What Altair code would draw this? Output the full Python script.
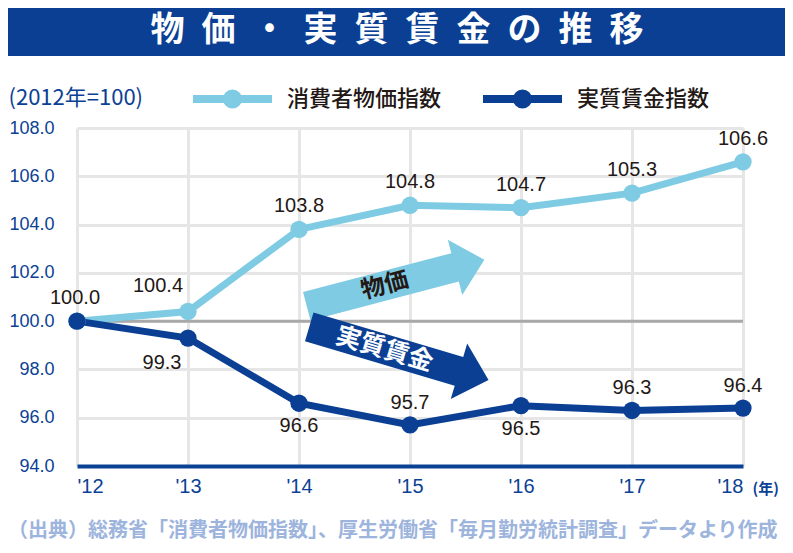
import json
import pandas as pd
import altair as alt

# ---------------- data ----------------
years = [2012, 2013, 2014, 2015, 2016, 2017, 2018]
year_labels = ["'12", "'13", "'14", "'15", "'16", "'17", "'18"]
cpi = [100.0, 100.4, 103.8, 104.8, 104.7, 105.3, 106.6]
wage = [100.0, 99.3, 96.6, 95.7, 96.5, 96.3, 96.4]
series_names = ["消費者物価指数", "実質賃金指数"]
y_ticks = [94.0, 96.0, 98.0, 100.0, 102.0, 104.0, 106.0, 108.0]
base_value = 100.0
title_text = "物価・実質賃金の推移"
unit_text = "(2012年=100)"
year_unit = "(年)"
source_text = "（出典）総務省「消費者物価指数」、厚生労働省「毎月勤労統計調査」データより作成"
arrow_labels = ["物価", "実質賃金"]
arrow_years = [2014.87, 2014.9]
arrow_values = [101.58, 98.66]

# ---------------- styles ----------------
LIGHT = "#7ecbe3"
DARK = "#0a3f94"
AXIS_BLUE = "#0b4195"
TEXT = "#231815"
GRID = "#e6e6e6"
SOURCE = "#9db4dd"
JP = "Noto Sans CJK JP"
NUM = "Liberation Sans"

ARROW_PATH = "M-1,-0.16L0.67,-0.16L0.67,-0.31L1,0L0.67,0.31L0.67,0.16L-1,0.16Z"
LEGEND_PATH = "M-1,0L1,0M0.14,0A0.14,0.14,0,1,1,-0.14,0A0.14,0.14,0,1,1,0.14,0Z"

df = pd.DataFrame({
    "year": years * 2,
    "value": cpi + wage,
    "series": [series_names[0]] * len(years) + [series_names[1]] * len(years),
})

xscale = alt.Scale(domain=[years[0], years[-1]], nice=False, zero=False)
yscale = alt.Scale(domain=[y_ticks[0], y_ticks[-1]], nice=False, zero=False)

xaxis = alt.Axis(
    values=years,
    labelExpr=f"{json.dumps(year_labels)}[datum.value - {years[0]}]",
    labelFont=NUM, labelFontSize=20, labelColor=AXIS_BLUE, labelPadding=10,
    ticks=False, tickSize=0,
    domain=True, domainColor=AXIS_BLUE, domainWidth=4,
    grid=True, gridColor=GRID, gridWidth=3,
    title=year_unit, titleFont=JP, titleFontSize=15, titleFontWeight="bold",
    titleColor=AXIS_BLUE, titleAngle=0, titleX=675, titleY=22,
    titleAlign="left", titleBaseline="middle",
)
yaxis = alt.Axis(
    values=y_ticks, format=".1f",
    labelFont=NUM, labelFontSize=18, labelColor=AXIS_BLUE, labelPadding=23,
    ticks=False, tickSize=0, domain=False,
    grid=True, gridWidth=3,
    gridColor={"condition": {"test": f"datum.value === {y_ticks[0]}", "value": "transparent"},
               "value": GRID},
    title=unit_text, titleFont=JP, titleFontSize=22, titleFontWeight="normal",
    titleColor=AXIS_BLUE, titleAngle=0, titleX=-69, titleY=-31,
    titleAlign="left", titleBaseline="middle",
)

X = alt.X("year:Q", scale=xscale, axis=xaxis)
Y = alt.Y("value:Q", scale=yscale, axis=yaxis)
COLOR = alt.Color(
    "series:N",
    scale=alt.Scale(domain=series_names, range=[LIGHT, DARK]),
    legend=alt.Legend(
        title=None, orient="none", legendX=112, legendY=-73,
        direction="horizontal", columns=2, padding=0,
        symbolType=LEGEND_PATH, symbolSize=6241, symbolStrokeWidth=8,
        labelFont=JP, labelFontSize=22, labelFontWeight=500, labelColor=TEXT,
        labelOffset=11, columnPadding=25, labelLimit=400,
    ),
)

one = pd.DataFrame({"t": [0]})

banner = alt.Chart(one).mark_rect(color=DARK).encode(
    x=alt.value(-69), x2=alt.value(708), y=alt.value(-120), y2=alt.value(-72)
)
title = alt.Chart(pd.DataFrame({"t": ["\u2002".join(list(title_text))]})).mark_text(
    font=JP, fontSize=34, fontWeight="bold", color="white", align="center", baseline="middle"
).encode(x=alt.value(320), y=alt.value(-97), text="t:N")
source = alt.Chart(pd.DataFrame({"t": [source_text]})).mark_text(
    font=JP, fontSize=20, fontWeight="bold", color=SOURCE, align="left", baseline="middle"
).encode(x=alt.value(-69), y=alt.value(403), text="t:N")

base_rule = alt.Chart(pd.DataFrame({"value": [base_value]})).mark_rule(
    color="#a9a9a9", strokeWidth=3
).encode(y=Y)

arrows_df = pd.DataFrame({"year": arrow_years, "value": arrow_values, "label": arrow_labels})
arrow_base = alt.Chart(arrows_df)
arrow1 = arrow_base.transform_filter(alt.datum.label == arrow_labels[0]).mark_point(
    shape=ARROW_PATH, size=33700, angle=345.3, filled=True, color=LIGHT, opacity=1, strokeWidth=0
).encode(x=X, y=Y)
arrow2 = arrow_base.transform_filter(alt.datum.label == arrow_labels[1]).mark_point(
    shape=ARROW_PATH, size=34970, angle=16.5, filled=True, color=DARK, opacity=1, strokeWidth=0
).encode(x=X, y=Y)
arrow1_text = arrow_base.transform_filter(alt.datum.label == arrow_labels[0]).mark_text(
    font=JP, fontSize=24, fontWeight="bold", color=TEXT, angle=345.3, dx=-11,
    align="center", baseline="middle"
).encode(x=X, y=Y, text="label:N")
arrow2_text = arrow_base.transform_filter(alt.datum.label == arrow_labels[1]).mark_text(
    font=JP, fontSize=25, fontWeight="bold", color="white", angle=16.5, dx=-15,
    align="center", baseline="middle"
).encode(x=X, y=Y, text="label:N")

base = alt.Chart(df)
lines = base.mark_line(strokeWidth=7).encode(x=X, y=Y, color=COLOR)
points = base.mark_point(filled=True, size=300, opacity=1).encode(x=X, y=Y, color=COLOR)


def labels(series, yrs, dx, dy):
    test = f"datum.series === '{series}' && indexof({json.dumps(yrs)}, datum.year) >= 0"
    return base.transform_filter(test).mark_text(
        font=NUM, fontSize=20, color=TEXT, dx=dx, dy=dy, align="center", baseline="middle"
    ).encode(x=X, y=Y, text=alt.Text("value:Q", format=".1f"))


label_layers = [
    labels(series_names[0], [2012], -2, -23),
    labels(series_names[0], [2013], -30, -25),
    labels(series_names[0], [2014, 2015, 2016, 2017, 2018], 0, -23),
    labels(series_names[1], [2013], -26, 25),
    labels(series_names[1], [2014, 2016], 0, 23),
    labels(series_names[1], [2015, 2017, 2018], 0, -22),
]

chart = alt.layer(
    banner, title, source, base_rule, arrow1, arrow2, arrow1_text, arrow2_text,
    lines, points, *label_layers
).properties(
    width=666, height=338,
    padding={"left": 69, "top": 120, "right": 42, "bottom": 79},
    autosize=alt.AutoSizeParams(type="none"),
    background="white",
).configure_view(strokeWidth=0)

chart.save("out.html", embed_options={"renderer": "svg", "actions": False})
